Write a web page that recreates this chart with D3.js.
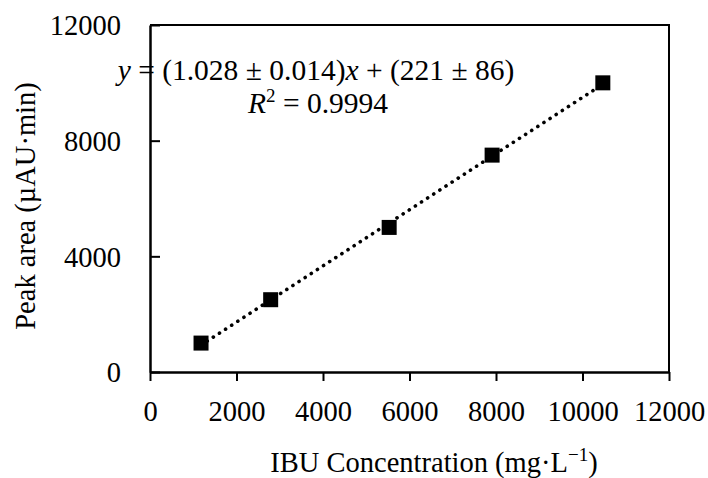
<!DOCTYPE html>
<html><head><meta charset="utf-8">
<script src="https://cdn.jsdelivr.net/npm/d3@7"></script>
<style>body{margin:0;background:#fff}svg{display:block}</style>
</head><body>
<svg id="c" width="708" height="478" font-family="Liberation Serif, Times New Roman, serif"></svg>
<script>
const concentration = [1180, 2790, 5530, 7910, 10470];
const peakArea = [1000, 2500, 5000, 7500, 10000];
const xTicks = [0, 2000, 4000, 6000, 8000, 10000, 12000];
const yTicks = [0, 4000, 8000, 12000];

const FONT = "Liberation Serif, Times New Roman, serif";
const svg = d3.select("#c");
const L = 150, R = 669, T = 25, B = 372;
const x = d3.scaleLinear().domain([0, 12000]).range([L, R]);
const y = d3.scaleLinear().domain([0, 12000]).range([B, T]);
const fs = 28.5;

// frame (top and right)
svg.append("path").attr("d", `M${L},${T}H${R}V${B}`).attr("fill","none").attr("stroke","#000").attr("stroke-width",2);

const xAxis = svg.append("g").attr("transform",`translate(0,${B})`)
  .call(d3.axisBottom(x).tickValues(xTicks).tickSize(9).tickSizeOuter(0).tickFormat(d3.format("d")));
xAxis.attr("font-family",FONT).attr("font-size",fs);
xAxis.select(".domain").attr("stroke-width",2.5);
xAxis.selectAll(".tick line").attr("stroke-width",2);
xAxis.selectAll(".tick text").attr("font-family",FONT).attr("font-size",fs).attr("fill","#000").attr("dy",null).attr("y",49);

const yAxis = svg.append("g").attr("transform",`translate(${L},0)`)
  .call(d3.axisRight(y).tickValues(yTicks).tickSize(10).tickSizeOuter(0).tickFormat(d3.format("d")));
yAxis.attr("font-family",FONT).attr("font-size",fs);
yAxis.select(".domain").attr("stroke-width",2.5);
yAxis.selectAll(".tick line").attr("stroke-width",2);
yAxis.selectAll(".tick text").attr("font-family",FONT).attr("font-size",fs).attr("fill","#000")
  .attr("text-anchor","end").attr("x",-29).attr("dy","0.35em");

// linear regression trendline
const n = concentration.length;
const mx = d3.mean(concentration), my = d3.mean(peakArea);
let sxy = 0, sxx = 0;
for (let i = 0; i < n; i++) { sxy += (concentration[i]-mx)*(peakArea[i]-my); sxx += (concentration[i]-mx)**2; }
const slope = sxy/sxx, icpt = my - slope*mx;
const x0 = d3.min(concentration), x1 = d3.max(concentration);
svg.append("line")
  .attr("x1", x(x0)).attr("y1", y(slope*x0+icpt))
  .attr("x2", x(x1)).attr("y2", y(slope*x1+icpt))
  .attr("stroke","#000").attr("stroke-width",3.6).attr("stroke-linecap","round")
  .attr("stroke-dasharray","0.1 7.2");

// markers
const s = 15;
svg.selectAll("rect.pt").data(concentration).join("rect").attr("class","pt")
  .attr("x", (d)=>x(d)-s/2).attr("y",(d,i)=>y(peakArea[i])-s/2)
  .attr("width",s).attr("height",s).attr("fill","#000");

// equation
const efs = 29.5;
const eq = svg.append("text").attr("x",316).attr("y",80).attr("font-size",efs).attr("text-anchor","middle").attr("font-family",FONT);
eq.append("tspan").attr("font-style","italic").text("y");
eq.append("tspan").text(" = (1.028 ± 0.014)");
eq.append("tspan").attr("font-style","italic").text("x");
eq.append("tspan").text(" + (221 ± 86)");
const r2 = svg.append("text").attr("x",318).attr("y",113).attr("font-size",efs).attr("text-anchor","middle").attr("font-family",FONT);
r2.append("tspan").attr("font-style","italic").text("R");
r2.append("tspan").attr("font-size",19).attr("dy",-11).text("2");
r2.append("tspan").attr("dy",11).text(" = 0.9994");

// axis titles
const xt = svg.append("text").attr("x",434).attr("y",472).attr("font-size",fs).attr("text-anchor","middle").attr("font-family",FONT);
xt.append("tspan").text("IBU Concentration (mg·L");
xt.append("tspan").attr("font-size",19).attr("dy",-11).text("−1");
xt.append("tspan").attr("dy",11).text(")");

svg.append("text").attr("transform","translate(35,206) rotate(-90)").attr("text-anchor","middle")
  .attr("font-family",FONT).attr("font-size",fs).text("Peak area (µAU·min)");
</script>
</body></html>
